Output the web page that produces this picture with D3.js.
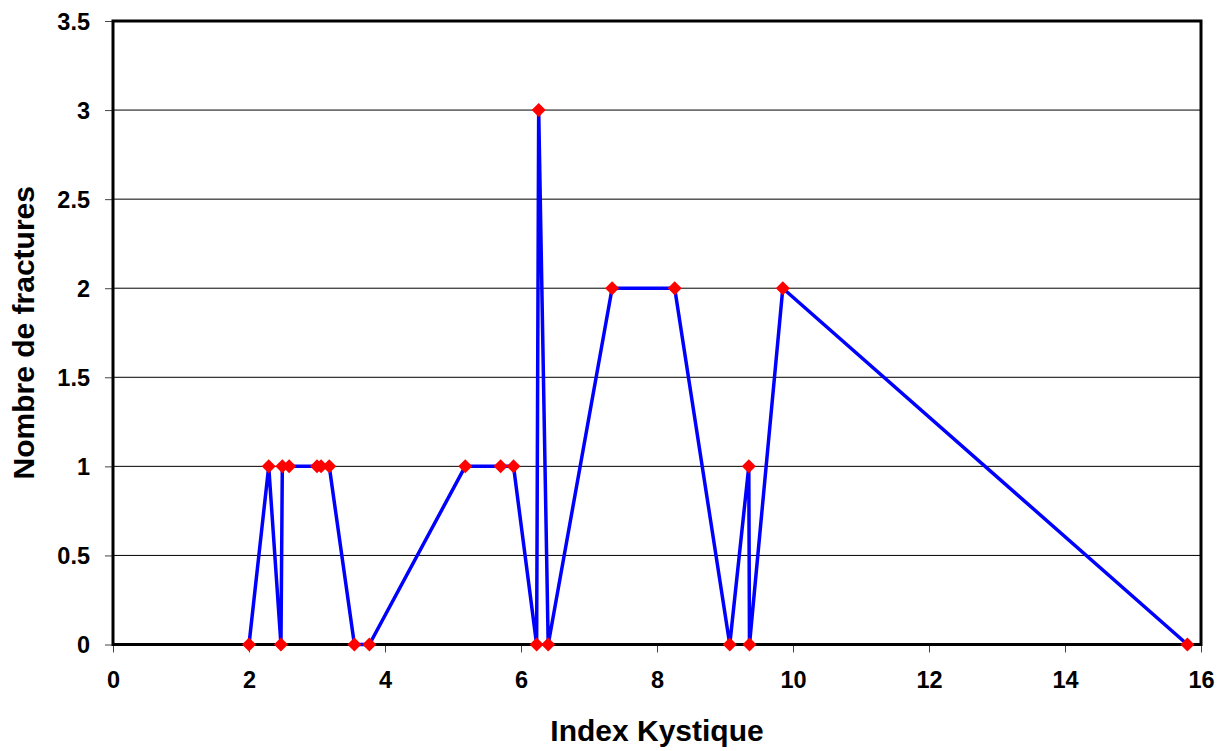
<!DOCTYPE html>
<html>
<head>
<meta charset="utf-8">
<script src="https://cdn.jsdelivr.net/npm/d3@7"></script>
<style>
  html, body { margin: 0; padding: 0; background: #fff; }
  svg { display: block; }
  text { font-family: "Liberation Sans", Arial, sans-serif; font-weight: bold; fill: #000; }
</style>
</head>
<body>
<svg id="chart" width="1229" height="751"></svg>
<script>
// ---- data ----
const indexKystique = [2.0, 2.29, 2.47, 2.49, 2.59, 3.0, 3.06, 3.18, 3.55, 3.77, 5.18, 5.70, 5.89, 6.23, 6.26, 6.40, 7.34, 8.26, 9.07, 9.35, 9.36, 9.85, 15.80];
const nombreFractures = [0, 1, 0, 1, 1, 1, 1, 1, 0, 0, 1, 1, 1, 0, 3, 0, 2, 2, 0, 1, 0, 2, 0];
const xTickValues = [0, 2, 4, 6, 8, 10, 12, 14, 16];
const yTickValues = [0, 0.5, 1, 1.5, 2, 2.5, 3, 3.5];
const xTitle = "Index Kystique";
const yTitle = "Nombre de fractures";

// ---- layout ----
const svg = d3.select("#chart");
const pL = 113, pR = 1201, pT = 21, pB = 644.5;
const x = d3.scaleLinear().domain([0, 16]).range([pL, pR]);
const y = d3.scaleLinear().domain([0, 3.5]).range([pB, pT]);

// grid lines
svg.append("g").selectAll("line").data(yTickValues).join("line")
  .attr("x1", pL).attr("x2", pR)
  .attr("y1", d => y(d)).attr("y2", d => y(d))
  .attr("stroke", "#000").attr("stroke-width", 1);

// y axis ticks + labels
const yAxis = d3.axisLeft(y).tickValues(yTickValues).tickSize(8).tickPadding(15)
  .tickFormat(d => String(d));
const gy = svg.append("g").attr("transform", `translate(${pL},0)`).call(yAxis);
gy.select(".domain").remove();
gy.selectAll(".tick line").attr("stroke", "#444").attr("stroke-width", 1);
gy.selectAll(".tick text").style("font-size", "23.5px").attr("dy", "0.36em");

// x axis ticks + labels
const xAxis = d3.axisBottom(x).tickValues(xTickValues).tickSize(8).tickPadding(19)
  .tickFormat(d => String(d));
const gx = svg.append("g").attr("transform", `translate(0,${pB})`).call(xAxis);
gx.select(".domain").remove();
gx.selectAll(".tick line").attr("stroke", "#444").attr("stroke-width", 1);
gx.selectAll(".tick text").style("font-size", "23.5px").attr("dy", "0.71em");

// plot border
svg.append("rect")
  .attr("x", pL).attr("y", pT)
  .attr("width", pR - pL).attr("height", pB - pT)
  .attr("fill", "none").attr("stroke", "#000").attr("stroke-width", 3);

// data line
const pts = indexKystique.map((v, i) => [v, nombreFractures[i]]);
svg.append("path")
  .datum(pts)
  .attr("fill", "none")
  .attr("stroke", "#0000ff")
  .attr("stroke-width", 3.5)
  .attr("stroke-linejoin", "miter")
  .attr("d", d3.line().x(d => x(d[0])).y(d => y(d[1])));

// diamond markers
const s = 7;
svg.append("g").selectAll("path").data(pts).join("path")
  .attr("transform", d => `translate(${x(d[0])},${y(d[1])})`)
  .attr("d", `M0,${-s}L${s},0L0,${s}L${-s},0Z`)
  .attr("fill", "#ff0000");

// axis titles
svg.append("text")
  .attr("x", (pL + pR) / 2).attr("y", 741)
  .attr("text-anchor", "middle")
  .style("font-size", "30px")
  .text(xTitle);

svg.append("text")
  .attr("transform", `translate(34,${(pT + pB) / 2}) rotate(-90)`)
  .attr("text-anchor", "middle")
  .style("font-size", "30px")
  .text(yTitle);
</script>
</body>
</html>
